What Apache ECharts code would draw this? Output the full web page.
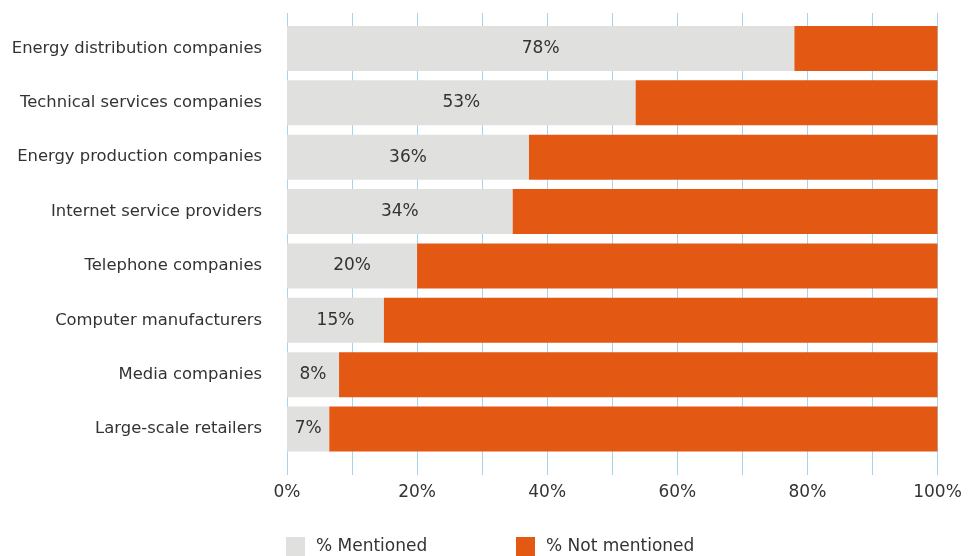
<!DOCTYPE html>
<html>
<head>
<meta charset="utf-8">
<script src="https://cdn.jsdelivr.net/npm/echarts@6/dist/echarts.min.js"></script>
<style>
html,body{margin:0;padding:0;background:#fff;}
#chart{width:971px;height:556px;}
</style>
</head>
<body>
<div id="chart"></div>
<script>
const categories = [
  "Energy distribution companies",
  "Technical services companies",
  "Energy production companies",
  "Internet service providers",
  "Telephone companies",
  "Computer manufacturers",
  "Media companies",
  "Large-scale retailers"
];
const mentioned = [78, 53.6, 37.2, 34.7, 20, 14.9, 8, 6.5];
const mentionedLabels = ["78%", "53%", "36%", "34%", "20%", "15%", "8%", "7%"];
const notMentioned = [22, 46.4, 62.8, 65.3, 80, 85.1, 92, 93.5];
const xTicks = [0, 20, 40, 60, 80, 100];
const seriesNames = ["% Mentioned", "% Not mentioned"];

const FONT = "DejaVu Sans";
const chart = echarts.init(document.getElementById('chart'), null, {renderer: 'canvas'});

const option = {
  animation: false,
  backgroundColor: '#ffffff',
  textStyle: {fontFamily: FONT},
  legend: [
    {
      data: [seriesNames[0]], left: 286, top: 537, padding: 0,
      itemWidth: 19, itemHeight: 19, icon: 'rect',
      textStyle: {fontFamily: FONT, fontSize: 17, color: '#333', padding: [0, 0, 0, 6]}
    },
    {
      data: [seriesNames[1]], left: 516, top: 537, padding: 0,
      itemWidth: 19, itemHeight: 19, icon: 'rect',
      textStyle: {fontFamily: FONT, fontSize: 17, color: '#333', padding: [0, 0, 0, 6]}
    }
  ],
  grid: [
    {left: 287, right: 33.5, top: 21.3, bottom: 556 - 456.2, containLabel: false},
    {left: 287, right: 33.5, top: 13, bottom: 556 - 475, containLabel: false}
  ],
  xAxis: [
    {
      type: 'value', gridIndex: 0, min: 0, max: 100,
      show: false
    },
    {
      type: 'value', gridIndex: 1, min: 0, max: 100, interval: 10,
      axisLine: {show: false}, axisTick: {show: false},
      splitLine: {show: true, lineStyle: {color: '#a9d2ee', width: 1}},
      axisLabel: {
        show: true, margin: 9, fontFamily: FONT, fontSize: 17, color: '#333',
        formatter: function (v) { return xTicks.indexOf(v) >= 0 ? v + '%' : ''; }
      }
    }
  ],
  yAxis: [
    {
      type: 'category', gridIndex: 0, data: categories, inverse: true,
      axisLine: {show: false}, axisTick: {show: false}, splitLine: {show: false},
      axisLabel: {margin: 25, fontFamily: FONT, fontSize: 16.4, color: '#333'}
    },
    {
      type: 'category', gridIndex: 1, data: categories, inverse: true, show: false
    }
  ],
  series: [
    {
      name: seriesNames[0], type: 'bar', stack: 'total', xAxisIndex: 0, yAxisIndex: 0,
      data: mentioned, barWidth: 45, z: 3,
      itemStyle: {color: '#e0e0df'},
      label: {
        show: true, position: 'inside', fontFamily: FONT, fontSize: 17, color: '#333',
        formatter: function (p) { return mentionedLabels[p.dataIndex]; }
      }
    },
    {
      name: seriesNames[1], type: 'bar', stack: 'total', xAxisIndex: 0, yAxisIndex: 0,
      data: notMentioned, barWidth: 45, z: 3,
      itemStyle: {color: '#e35913'},
      label: {show: false}
    }
  ]
};
chart.setOption(option);
</script>
</body>
</html>
